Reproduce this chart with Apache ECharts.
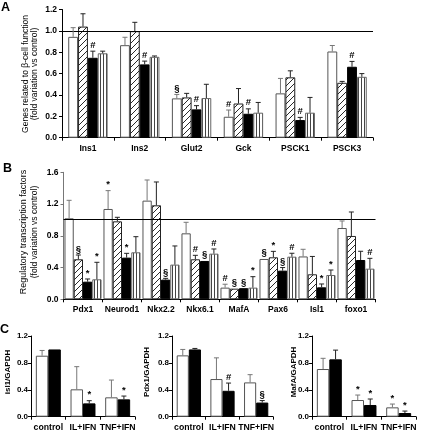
<!DOCTYPE html>
<html><head><meta charset="utf-8">
<script src="https://cdn.jsdelivr.net/npm/echarts@6/dist/echarts.min.js"></script>
<style>html,body{margin:0;padding:0;background:#fff}#c{width:421px;height:432px}</style>
</head><body><div id="c"></div>
<script>
// ---------- Panel A ----------
const catsA = ['Ins1','Ins2','Glut2','Gck','PSCK1','PSCK3'];
const aWhite    = [0.944,0.866,0.368,0.196,0.415,0.807];
const aWhiteErr = [1.03,0.94,0.405,0.259,0.555,0.863];
const aWhiteSig = ['','','§','#','',''];
const aHatch    = [1.04,0.997,0.377,0.32,0.565,0.514];
const aHatchErr = [1.16,1.08,0.415,0.46,0.626,0.527];
const aHatchSig = ['','','','','',''];
const aBlack    = [0.748,0.686,0.265,0.224,0.165,0.664];
const aBlackErr = [0.81,0.717,0.30,0.27,0.19,0.714];
const aBlackSig = ['#','#','#','#','#','#'];
const aStripe    = [0.79,0.757,0.371,0.234,0.234,0.57];
const aStripeErr = [0.81,0.765,0.50,0.33,0.377,0.60];
const aStripeSig = ['','','','','',''];
const aTicks = [0,0.2,0.4,0.6,0.8,1.0,1.2];

// ---------- Panel B ----------
const catsB = ['Pdx1','Neurod1','Nkx2.2','Nkx6.1','MafA','Pax6','Isl1','foxo1'];
const bWhite    = [1.02,1.138,1.243,0.831,0.147,0.508,0.54,0.898];
const bWhiteErr = [1.247,1.369,1.503,0.97,0.19,0.516,0.63,0.987];
const bWhiteSig = ['','*','','','#','§','',''];
const bHatch    = [0.504,0.982,1.184,0.504,0.134,0.529,0.315,0.798];
const bHatchErr = [0.558,1.033,1.478,0.554,0.134,0.604,0.54,1.1];
const bHatchSig = ['§','','','#','§','*','',''];
const bBlack    = [0.222,0.525,0.248,0.483,0.14,0.361,0.151,0.495];
const bBlackErr = [0.256,0.579,0.264,0.49,0.14,0.4,0.193,0.605];
const bBlackSig = ['*','*','§','§','§','§','*',''];
const bStripe    = [0.252,0.592,0.437,0.575,0.147,0.537,0.306,0.386];
const bStripeErr = [0.466,0.789,0.672,0.634,0.285,0.58,0.369,0.516];
const bStripeSig = ['*','','','#','*','#','*','#'];
const bTicks = [0,0.4,0.8,1.2,1.6];

// ---------- Panel C ----------
const catsC = ['control','IL+IFN','TNF+IFN'];
const c1White = [0.907,0.407,0.288], c1WhiteErr = [0.985,0.744,0.545], c1WhiteSig = ['','',''];
const c1Black = [1.0,0.198,0.258],   c1BlackErr = [1.0,0.238,0.307],   c1BlackSig = ['','*','*'];
const c2White = [0.912,0.56,0.51],   c2WhiteErr = [1.0,0.875,0.625],   c2WhiteSig = ['','',''];
const c2Black = [1.0,0.385,0.21],    c2BlackErr = [1.015,0.5,0.24],    c2BlackSig = ['','#','§'];
const c3White = [0.709,0.248,0.139], c3WhiteErr = [0.868,0.322,0.188], c3WhiteSig = ['','*','*'];
const c3Black = [0.853,0.174,0.055], c3BlackErr = [0.99,0.263,0.084],  c3BlackSig = ['','*','*'];
const cTicks = [0,0.4,0.8,1.2];

const FONT = 'Liberation Sans, Arial, sans-serif';

function hatchCanvas(){
  const n = 6;
  const c = document.createElement('canvas'); c.width = n; c.height = n;
  const x = c.getContext('2d'); x.fillStyle = '#fff'; x.fillRect(0,0,n,n);
  x.strokeStyle = '#111'; x.lineWidth = 0.9;
  x.beginPath(); x.moveTo(-1,n+1); x.lineTo(n+1,-1); x.stroke();
  x.beginPath(); x.moveTo(-1,1); x.lineTo(1,-1); x.stroke();
  x.beginPath(); x.moveTo(n-1,n+1); x.lineTo(n+1,n-1); x.stroke();
  return c;
}
function stripeCanvas(){
  const c = document.createElement('canvas'); c.width = 3; c.height = 4;
  const x = c.getContext('2d'); x.fillStyle = '#fff'; x.fillRect(0,0,3,4);
  x.fillStyle = '#444'; x.fillRect(1,0,1,4);
  return c;
}
const HATCH = {image: hatchCanvas(), repeat: 'repeat'};
const STRIPE = {image: stripeCanvas(), repeat: 'repeat'};

const styles = {
  white:  {color:'#fff', borderColor:'#555', borderWidth:1},
  hatch:  {color:HATCH, borderColor:'#222', borderWidth:1},
  black:  {color:'#000', borderColor:'#000', borderWidth:1},
  stripe: {color:STRIPE, borderColor:'#666', borderWidth:1},
};

function barSeries(g, vals, st, gap, refLine){
  const s = {type:'bar', xAxisIndex:g, yAxisIndex:g, data:vals, barGap:'0%', barCategoryGap:(gap*100)+'%',
    itemStyle:styles[st], silent:true, z:2};
  if (refLine !== undefined) {
    s.markLine = {silent:true, symbol:['none','none'], label:{show:false},
      lineStyle:{color:'#000', type:'solid', width:1}, data:[{yAxis:refLine}]};
  }
  return s;
}
function errSeries(g, vals, errs, sigs, n, k, gap, color){
  return {
    type:'custom', xAxisIndex:g, yAxisIndex:g, z:10, silent:true, clip:false,
    data: vals.map((v,i)=>[i, v, errs[i]]),
    encode:{x:0, y:[1,2]},
    renderItem: function(params, api){
      const i = api.value(0), v = api.value(1), e = api.value(2);
      const band = api.size([1,0])[0];
      const bw = band*(1-gap)/n;
      const c0 = api.coord([i, v]);
      const ce = api.coord([i, e]);
      const x = c0[0] - band*(1-gap)/2 + bw*(k+0.5);
      const children = [];
      if (ce[1] < c0[1]-0.8) {
        children.push({type:'line', shape:{x1:x,y1:c0[1],x2:x,y2:ce[1]}, style:{stroke:color, lineWidth:1}});
        children.push({type:'line', shape:{x1:x-2.5,y1:ce[1],x2:x+2.5,y2:ce[1]}, style:{stroke:color, lineWidth:1}});
      }
      const s = sigs[params.dataIndex];
      if (s) children.push({type:'text', x:x, y:Math.min(ce[1],c0[1])-1,
        style:{text:s, align:'center', verticalAlign:'bottom', fontSize:9.5, fontWeight:'bold', fontFamily:FONT, fill:'#000'}});
      return {type:'group', children};
    }
  };
}
function xAx(g, cats, fs){
  return {type:'category', gridIndex:g, data:cats, boundaryGap:true,
    axisLine:{show:true, lineStyle:{color:'#000', width:1}},
    axisTick:{show:true, length:3, interval:0, alignWithLabel:false, lineStyle:{color:'#000'}},
    axisLabel:{interval:0, margin:6, color:'#000', fontSize:fs, fontWeight:'bold', fontFamily:FONT},
    splitLine:{show:false}};
}
function yAx(g, ticks, color, fs, margin){
  return {type:'value', gridIndex:g, min:ticks[0], max:ticks[ticks.length-1], interval:ticks[1]-ticks[0],
    axisLine:{show:true, lineStyle:{color:color, width:1}},
    axisTick:{show:true, length:3, lineStyle:{color:color}},
    axisLabel:{margin:margin, color:'#000', fontSize:fs, fontWeight:'bold', fontFamily:FONT, formatter:v=>v.toFixed(1)},
    splitLine:{show:false}};
}

const grids = [
  {left:62, top:9.5, width:311, height:128.2},
  {left:63.5, top:172.3, width:312, height:127},
  {left:31, top:336, width:104, height:80.7},
  {left:172, top:336, width:101, height:80.7},
  {left:312, top:336, width:104, height:80.7},
];

const series = [];
const gA = 0.24, gB = 0.05, gC = 0.28;
const errDark = '#222', errGray = '#777';
// A
[[aWhite,aWhiteErr,aWhiteSig,'white',errGray],[aHatch,aHatchErr,aHatchSig,'hatch',errDark],
 [aBlack,aBlackErr,aBlackSig,'black',errDark],[aStripe,aStripeErr,aStripeSig,'stripe',errDark]].forEach((d,k)=>{
  series.push(barSeries(0, d[0], d[3], gA, k===0 ? 1.0 : undefined));
  series.push(errSeries(0, d[0], d[1], d[2], 4, k, gA, d[4]));
});
// B
[[bWhite,bWhiteErr,bWhiteSig,'white',errGray],[bHatch,bHatchErr,bHatchSig,'hatch',errDark],
 [bBlack,bBlackErr,bBlackSig,'black',errDark],[bStripe,bStripeErr,bStripeSig,'stripe',errDark]].forEach((d,k)=>{
  series.push(barSeries(1, d[0], d[3], gB, k===0 ? 1.01 : undefined));
  series.push(errSeries(1, d[0], d[1], d[2], 4, k, gB, d[4]));
});
// C
[[c1White,c1WhiteErr,c1WhiteSig,c1Black,c1BlackErr,c1BlackSig],
 [c2White,c2WhiteErr,c2WhiteSig,c2Black,c2BlackErr,c2BlackSig],
 [c3White,c3WhiteErr,c3WhiteSig,c3Black,c3BlackErr,c3BlackSig]].forEach((d,j)=>{
  const g = 2+j;
  series.push(barSeries(g, d[0], 'white', gC));
  series.push(errSeries(g, d[0], d[1], d[2], 2, 0, gC, errGray));
  series.push(barSeries(g, d[3], 'black', gC));
  series.push(errSeries(g, d[3], d[4], d[5], 2, 1, gC, errDark));
});

function vtext(x, y, text, fs, bold){
  return {type:'text', x:x, y:y, rotation:Math.PI/2, silent:true,
    style:{text:text, align:'center', verticalAlign:'middle', fontSize:fs, fontWeight:bold?'bold':'normal', fontFamily:FONT, fill:'#000'}};
}
function letter(x, y, t){
  return {type:'text', x:x, y:y, silent:true,
    style:{text:t, align:'left', verticalAlign:'middle', fontSize:12.5, fontWeight:'bold', fontFamily:FONT, fill:'#000'}};
}

const chart = echarts.init(document.getElementById('c'), null, {renderer:'canvas'});
chart.setOption({
  animation:false,
  backgroundColor:'#fff',
  grid: grids,
  xAxis: [xAx(0,catsA,8.5), xAx(1,catsB,8.5), xAx(2,catsC,8.7), xAx(3,catsC,8.7), xAx(4,catsC,8.7)],
  yAxis: [yAx(0,aTicks,'#000',8.5,5), yAx(1,bTicks,'#777',8.5,5),
          yAx(2,cTicks,'#000',8,3), yAx(3,cTicks,'#000',8,3), yAx(4,cTicks,'#000',8,3)],
  series: series,
  graphic: [
    letter(1, 8, 'A'), letter(3, 169, 'B'), letter(0, 329.5, 'C'),
    vtext(26, 74, 'Genes related to β-cell function', 8.5, false),
    vtext(34.5, 74, '(fold variation vs control)', 8.5, false),
    vtext(23.5, 232, 'Regulatory transcription factors', 9, false),
    vtext(34.5, 232, '(fold variation vs control)', 8.5, false),
    vtext(8, 372, 'isl1/GAPDH', 8, true),
    vtext(147, 372, 'Pdx1/GAPDH', 8, true),
    vtext(294, 372, 'MafA/GAPDH', 8, true),
  ]
});
</script>
</body></html>
